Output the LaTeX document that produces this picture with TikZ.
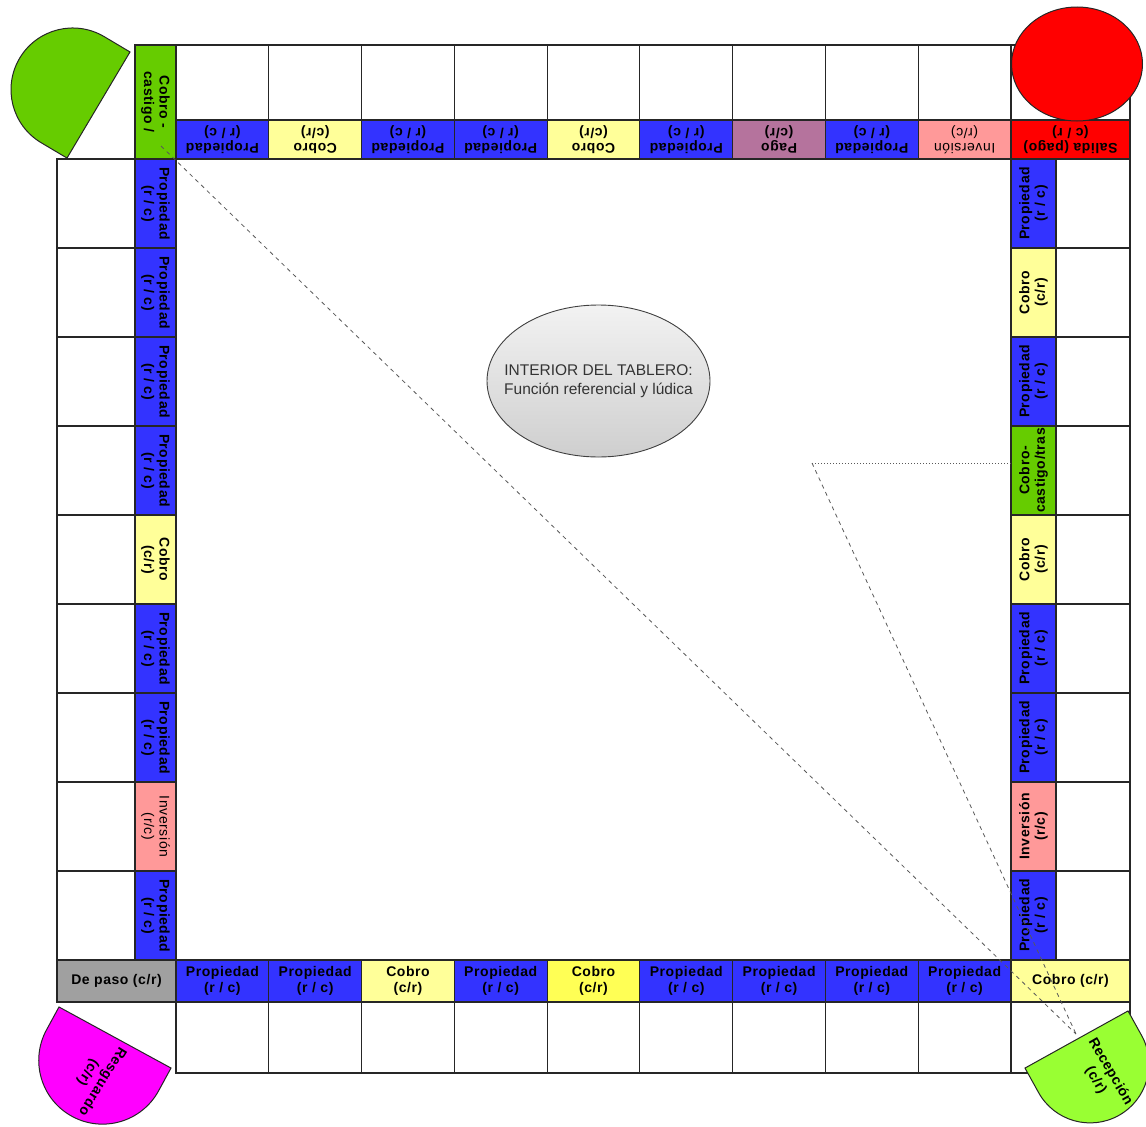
\documentclass[tikz,border=0pt]{standalone}
\usepackage{fontspec}
\setmainfont{Liberation Sans}
\newfontfamily\lblfont[LetterSpace=4]{Liberation Sans}
\usetikzlibrary{shapes.geometric}
\definecolor{cblue}{HTML}{3333FF}
\definecolor{cyel}{HTML}{FFFF99}
\definecolor{cyelb}{HTML}{FFFF55}
\definecolor{cpink}{HTML}{FF9999}
\definecolor{cpago}{HTML}{B5739D}
\definecolor{cred}{HTML}{FF0000}
\definecolor{cgreen}{HTML}{66CC00}
\definecolor{cgreenl}{HTML}{99FF33}
\definecolor{cgray}{HTML}{A0A0A0}
\definecolor{cmag}{HTML}{FF00FF}
\begin{document}
\begin{tikzpicture}[x=1pt,y=-1pt,
  cell/.style={draw=black!85, line width=1.1pt, inner sep=0pt, outer sep=0pt, rectangle, align=center,
    font=\lblfont\fontsize{14}{15.5}\selectfont\bfseries},
  lightfont/.style={font=\lblfont\fontsize{14}{15.5}\selectfont},
  wcell/.style={cell, fill=white},
  hcol/.style={minimum width=92.78pt},
  topw/.style={wcell, hcol, minimum height=75pt},
  tops/.style={cell, hcol, minimum height=39pt, rotate=180},
  botw/.style={wcell, hcol, minimum height=71pt},
  bots/.style={cell, hcol, minimum height=42pt},
  leftw/.style={wcell, minimum width=78pt, minimum height=89pt},
  lefts/.style={cell, minimum width=89pt, minimum height=41pt, rotate=-90},
  rightw/.style={wcell, minimum width=74pt, minimum height=89pt},
  rights/.style={cell, minimum width=89pt, minimum height=45pt, rotate=90},
  prop/.style={fill=cblue},
  cob/.style={fill=cyel},
  inv/.style={fill=cpink},
  dshape/.style={draw=black!85, line width=1pt},
  link/.style={draw=black!65, line width=0.8pt, dash pattern=on 4pt off 4pt},
  dlabel/.style={align=center, inner sep=0pt, font=\lblfont\fontsize{14}{17}\selectfont\bfseries}
]
\useasboundingbox (0,0) rectangle (1146,1127);

% ---------- top row: white cells ----------
\node[topw] (tw1) at (222.4,82.5) {};
\node[topw] (tw2) at (315.2,82.5) {};
\node[topw] (tw3) at (408.0,82.5) {};
\node[topw] (tw4) at (500.7,82.5) {};
\node[topw] (tw5) at (593.5,82.5) {};
\node[topw] (tw6) at (686.3,82.5) {};
\node[topw] (tw7) at (779.1,82.5) {};
\node[topw] (tw8) at (871.8,82.5) {};
\node[topw] (tw9) at (964.6,82.5) {};
\node[wcell, minimum width=119pt, minimum height=75pt] (tw10) at (1070.5,82.5) {};

% ---------- top row: coloured strip (upside down) ----------
\node[tops, prop] (t1) at (222.4,139.5) {Propiedad\\(r / c)};
\node[tops, cob]  (t2) at (315.2,139.5) {Cobro\\(c/r)};
\node[tops, prop] (t3) at (408.0,139.5) {Propiedad\\(r / c)};
\node[tops, prop] (t4) at (500.7,139.5) {Propiedad\\(r / c)};
\node[tops, cob]  (t5) at (593.5,139.5) {Cobro\\(c/r)};
\node[tops, prop] (t6) at (686.3,139.5) {Propiedad\\(r / c)};
\node[tops, fill=cpago] (t7) at (779.1,139.5) {Pago\\(c/r)};
\node[tops, prop] (t8) at (871.8,139.5) {Propiedad\\(r / c)};
\node[tops, inv, lightfont] (t9) at (964.6,139.5) {Inversión\\(r/c)};
\node[cell, fill=cred, minimum width=119pt, minimum height=39pt, rotate=180] (salida) at (1070.5,139.5) {Salida (pago)\\(c / r)};

% top-left green cell
\node[cell, fill=cgreen, minimum width=114pt, minimum height=41pt, rotate=-90] (castigo) at (155.5,102) {Cobro -\\castigo /};

% ---------- left column ----------
\node[leftw] (lw1) at (96,203.5) {};
\node[leftw] (lw2) at (96,292.5) {};
\node[leftw] (lw3) at (96,381.5) {};
\node[leftw] (lw4) at (96,470.5) {};
\node[leftw] (lw5) at (96,559.5) {};
\node[leftw] (lw6) at (96,648.5) {};
\node[leftw] (lw7) at (96,737.5) {};
\node[leftw] (lw8) at (96,826.5) {};
\node[leftw] (lw9) at (96,915.5) {};
\node[lefts, prop] (l1) at (155.5,203.5) {Propiedad\\(r / c)};
\node[lefts, prop] (l2) at (155.5,292.5) {Propiedad\\(r / c)};
\node[lefts, prop] (l3) at (155.5,381.5) {Propiedad\\(r / c)};
\node[lefts, prop] (l4) at (155.5,470.5) {Propiedad\\(r / c)};
\node[lefts, cob]  (l5) at (155.5,559.5) {Cobro\\(c/r)};
\node[lefts, prop] (l6) at (155.5,648.5) {Propiedad\\(r / c)};
\node[lefts, prop] (l7) at (155.5,737.5) {Propiedad\\(r / c)};
\node[lefts, inv, lightfont] (l8) at (155.5,826.5) {Inversión\\(r/c)};
\node[lefts, prop] (l9) at (155.5,915.5) {Propiedad\\(r / c)};

% ---------- right column ----------
\node[rightw] (rw1) at (1093,203.5) {};
\node[rightw] (rw2) at (1093,292.5) {};
\node[rightw] (rw3) at (1093,381.5) {};
\node[rightw] (rw4) at (1093,470.5) {};
\node[rightw] (rw5) at (1093,559.5) {};
\node[rightw] (rw6) at (1093,648.5) {};
\node[rightw] (rw7) at (1093,737.5) {};
\node[rightw] (rw8) at (1093,826.5) {};
\node[rightw] (rw9) at (1093,915.5) {};
\node[rights, prop] (r1) at (1033.5,203.5) {Propiedad\\(r / c)};
\node[rights, cob]  (r2) at (1033.5,292.5) {Cobro\\(c/r)};
\node[rights, prop] (r3) at (1033.5,381.5) {Propiedad\\(r / c)};
\node[rights, fill=cgreen] (r4) at (1033.5,470.5) {Cobro-\\castigo/tras};
\node[rights, cob]  (r5) at (1033.5,559.5) {Cobro\\(c/r)};
\node[rights, prop] (r6) at (1033.5,648.5) {Propiedad\\(r / c)};
\node[rights, prop] (r7) at (1033.5,737.5) {Propiedad\\(r / c)};
\node[rights, inv]  (r8) at (1033.5,826.5) {Inversión\\(r/c)};
\node[rights, prop] (r9) at (1033.5,915.5) {Propiedad\\(r / c)};

% ---------- bottom row ----------
\node[botw] (bw1) at (222.4,1037.5) {};
\node[botw] (bw2) at (315.2,1037.5) {};
\node[botw] (bw3) at (408.0,1037.5) {};
\node[botw] (bw4) at (500.7,1037.5) {};
\node[botw] (bw5) at (593.5,1037.5) {};
\node[botw] (bw6) at (686.3,1037.5) {};
\node[botw] (bw7) at (779.1,1037.5) {};
\node[botw] (bw8) at (871.8,1037.5) {};
\node[botw] (bw9) at (964.6,1037.5) {};
\node[wcell, minimum width=119pt, minimum height=71pt] (bw10) at (1070.5,1037.5) {};

\node[cell, fill=cgray, minimum width=119pt, minimum height=42pt] (depaso) at (116.5,981) {De paso (c/r)};
\node[bots, prop] (b1) at (222.4,981) {Propiedad\\(r / c)};
\node[bots, prop] (b2) at (315.2,981) {Propiedad\\(r / c)};
\node[bots, cob]  (b3) at (408.0,981) {Cobro\\(c/r)};
\node[bots, prop] (b4) at (500.7,981) {Propiedad\\(r / c)};
\node[bots, fill=cyelb] (b5) at (593.5,981) {Cobro\\(c/r)};
\node[bots, prop] (b6) at (686.3,981) {Propiedad\\(r / c)};
\node[bots, prop] (b7) at (779.1,981) {Propiedad\\(r / c)};
\node[bots, prop] (b8) at (871.8,981) {Propiedad\\(r / c)};
\node[bots, prop] (b9) at (964.6,981) {Propiedad\\(r / c)};
\node[cell, cob, minimum width=119pt, minimum height=42pt] (bcobro) at (1070.5,981) {Cobro (c/r)};

% ---------- red start circle ----------
\node[ellipse, draw=black!85, line width=1pt, fill=cred, minimum width=131pt, minimum height=114pt, inner sep=0pt] (salidaC) at (1077,64) {};

% ---------- centre ellipse ----------
\node[ellipse, draw=black!75, line width=0.9pt, top color=gray!10, bottom color=gray!38,
  minimum width=223pt, minimum height=152pt, inner sep=0pt] (interior) at (598.5,381) {};
\node[align=center, inner sep=0pt, text=black!80, font=\fontsize{15.5}{19}\selectfont] (interiorText) at (interior.center)
  {INTERIOR DEL TABLERO:\\Función referencial y lúdica};

% ---------- dashed guide lines ----------
\coordinate (dA) at (161,146);
\coordinate (dB) at (812,463);
\coordinate (dC) at (1076,1034);
\draw[link] (dA) -- (dC);
\draw[link] (dB) -- (dC);
\draw[draw=black!65, line width=0.8pt, dash pattern=on 1pt off 2pt] (dB) -- (dB -| r4.north);

% ---------- corner D-shapes ----------
\begin{scope}[shift={(98.5,105)}, rotate=-120.7]
  \draw[dshape, fill=cgreen, y=1pt] (-61.7,0) -- (61.7,0) -- (61.7,-30) arc[start angle=0, end angle=-180, radius=61.7] -- cycle;
\end{scope}
\begin{scope}[shift={(115,1037.5)}, rotate=-28.6]
  \draw[dshape, fill=cmag, y=1pt] (-63.8,0) -- (63.8,0) -- (63.8,-26) arc[start angle=0, end angle=-180, radius=63.8] -- cycle;
\end{scope}
\begin{scope}[shift={(1076.5,1039.5)}, rotate=29]
  \draw[dshape, fill=cgreenl, y=1pt] (-58.9,0) -- (58.9,0) -- (58.9,-28) arc[start angle=0, end angle=-180, radius=58.9] -- cycle;
\end{scope}
\node[dlabel, rotate=-122] (resguardo) at (95,1077) {Resguardo\\(c/r)};
\node[dlabel, rotate=-60] (recepcion) at (1103,1076) {Recepción\\(c/r)};
\end{tikzpicture}
\end{document}
